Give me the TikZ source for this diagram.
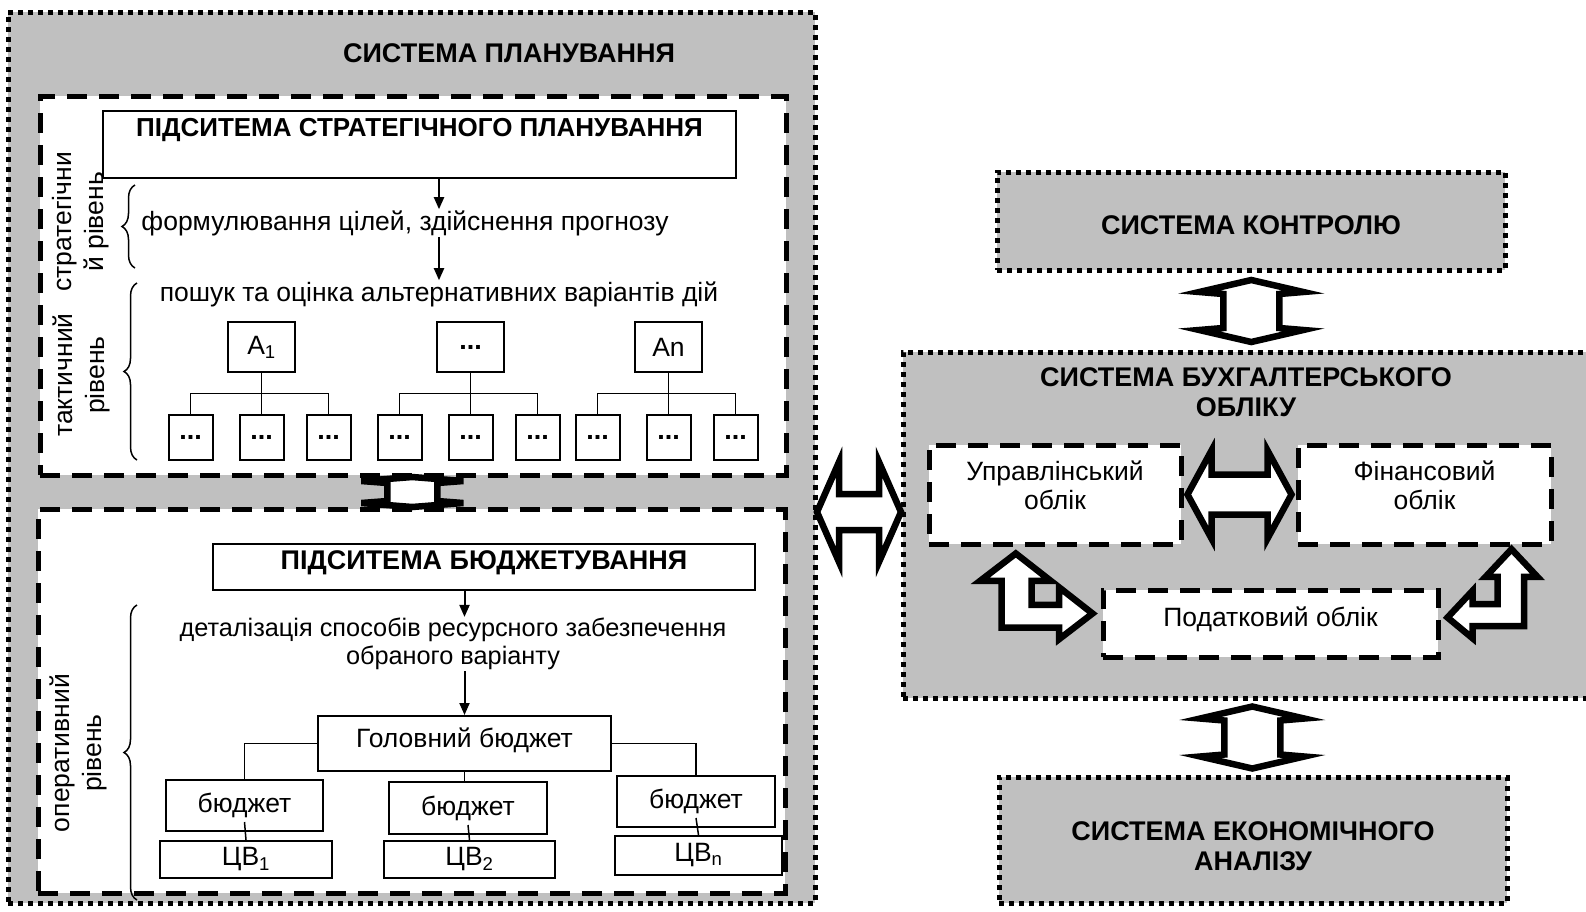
\documentclass[tikz,border=0pt]{standalone}
\usepackage{fontspec}
\setmainfont{Liberation Sans}
\usetikzlibrary{arrows.meta, positioning, calc, decorations.pathreplacing}
\definecolor{silver}{RGB}{192,192,192}

\begin{document}
\begin{tikzpicture}[
    x=1pt, y=-1pt,
    >={Triangle[length=12pt,width=10pt]},
    font=\fontsize{26.5}{29}\selectfont,
    boldfont/.style={font=\fontsize{27}{30}\selectfont\bfseries},
    sysbox/.style={rectangle, draw=black, fill=silver, line width=5pt, dash pattern=on 5pt off 5pt, inner sep=0pt, align=center},
    subbox/.style={rectangle, draw=black, fill=white, line width=5pt, dash pattern=on 20pt off 12pt, inner sep=0pt, align=center},
    plain/.style={rectangle, draw=black, fill=white, line width=2pt, inner sep=0pt, align=center},
    dotbox/.style={plain, minimum width=44pt, minimum height=45pt, boldfont},
    head/.style={boldfont, align=center, inner sep=0pt},
    txt/.style={align=center, inner sep=1pt},
    level/.style={rotate=90, align=center, inner sep=0pt, font=\fontsize{26.5}{32}\selectfont},
    arr/.style={->, line width=2pt},
    tree/.style={line width=1.5pt},
    brace/.style={decorate, decoration={brace, amplitude=13pt}, line width=1.5pt},
    blockarr/.style={draw=black, fill=white, line width=6.5pt, line join=miter},
    pics/dblarr/.style args={#1/#2/#3/#4/#5}{code={
        \draw[blockarr] (-#1,0) -- (-#1+#4,-#2) -- (-#1+#4+#5,-#3) -- (#1-#4-#5,-#3)
            -- (#1-#4,-#2) -- (#1,0) -- (#1-#4,#2) -- (#1-#4-#5,#3)
            -- (-#1+#4+#5,#3) -- (-#1+#4,#2) -- cycle;}}
]
\useasboundingbox (0,0) rectangle (1586,911);

% ---- Planning system (left) ----
\node[sysbox, minimum width=807pt, minimum height=891pt] (plan) at (411.5,457.5) {};
\node[head] (plantitle) at (509,53) {СИСТЕМА ПЛАНУВАННЯ};

\node[subbox, minimum width=746pt, minimum height=379pt] (strat) at (413,285.5) {};
\node[subbox, minimum width=747pt, minimum height=384pt] (budg) at (411.5,701) {};

% strategic + tactical level
\node[plain, minimum width=633pt, text height=25pt, text depth=42pt, font=\fontsize{26}{29}\selectfont\bfseries] (strathead) at (419.5,144.5) {ПІДСИТЕМА СТРАТЕГІЧНОГО ПЛАНУВАННЯ};
\node[txt] (goals) at (405,223) {формулювання цілей, здійснення прогнозу};
\node[txt] (alts) at (439,294) {пошук та оцінка альтернативних варіантів дій};

\node[plain, minimum width=67pt, minimum height=50pt] (alt1) at (261.5,347) {A\textsubscript{1}};
\node[plain, minimum width=67pt, minimum height=50pt, boldfont] (alt2) at (470.5,347) {...};
\node[plain, minimum width=67pt, minimum height=50pt] (alt3) at (668.5,347) {An};

\foreach \p in {alt1, alt2, alt3} {
  \node[dotbox, below=41pt of \p] (\p-2) {...};
  \node[dotbox, left=25pt of \p-2] (\p-1) {...};
  \node[dotbox, right=21pt of \p-2] (\p-3) {...};
  \coordinate (\p-bus) at ($(\p.south)!0.5!(\p-2.north)$);
  \draw[tree] (\p.south) -- (\p-bus);
  \draw[tree] (\p-1.north) |- (\p-3.north |- \p-bus) -- (\p-3.north);
  \draw[tree] (\p-bus) -- (\p-2.north);
}

\draw[arr] (strathead.south -| alts) -- (goals.north -| alts);
\draw[arr] (goals.south -| alts) -- (alts.north);

\draw[brace] (135,268) -- (135,185);
\draw[brace] (137,460) -- (137,283);
\node[level] (stratlevel) at (81,222) {стратегічни\\й рівень};
\node[level] (tactlevel) at (81,375) {тактичний\\рівень};

% operational level
\node[plain, minimum width=542pt, text height=25pt, text depth=21pt, boldfont] (budghead) at (484,567) {ПІДСИТЕМА БЮДЖЕТУВАННЯ};
\node[txt, font=\fontsize{25.3}{28}\selectfont] (detail) at (453,644) {деталізація способів ресурсного забезпечення\\обраного варіанту};
\node[plain, minimum width=293pt, text height=31pt, text depth=24pt] (mainbud) at (464.5,743.5) {Головний бюджет};

\node[plain, minimum width=157pt, minimum height=51pt] (bud1) at (244.5,805.5) {бюджет};
\node[plain, minimum width=158pt, minimum height=52pt] (bud2) at (468,808) {бюджет};
\node[plain, minimum width=158pt, minimum height=51pt] (bud3) at (696,801.5) {бюджет};
\node[plain, minimum width=172pt, minimum height=37pt] (cv1) at (246,859.5) {ЦВ\textsubscript{1}};
\node[plain, minimum width=171pt, minimum height=37pt] (cv2) at (469.5,859.5) {ЦВ\textsubscript{2}};
\node[plain, minimum width=167pt, minimum height=39pt] (cv3) at (698.5,855.5) {ЦВ\textsubscript{n}};

\draw[arr] (budghead.south -| mainbud) -- (detail.north -| mainbud);
\draw[arr] (detail.south -| mainbud) -- (mainbud.north);
\draw[tree] (mainbud.west) -| (bud1.north);
\draw[tree] (mainbud.south) -- (mainbud.south |- bud2.north);
\draw[tree] (mainbud.east) -| (bud3.north);
\foreach \i in {1,2,3}
  \draw[tree] ([yshift=10pt]bud\i.south) -- (cv\i.north);

\draw[brace] (137,900) -- (137,605);
\node[level] (operlevel) at (78,753) {оперативний\\рівень};

\pic[rotate=90] at ($(strat.south)!0.5!(budg.north)$) {dblarr=15/51/25/4/2};

% ---- Control, accounting, analysis (right) ----
\node[sysbox, minimum width=508pt, text height=62.5pt, text depth=35.5pt, head] (ctrl) at (1251,221) {СИСТЕМА КОНТРОЛЮ};
\node[sysbox, minimum width=697pt, minimum height=346pt] (acc) at (1251.5,525) {};
\node[head] (acctitle) at (1246,392) {СИСТЕМА БУХГАЛТЕРСЬКОГО\\ОБЛІКУ};
\node[sysbox, minimum width=508pt, text height=93.5pt, text depth=32.5pt, head] (anal) at (1253,840) {СИСТЕМА ЕКОНОМІЧНОГО\\АНАЛІЗУ};

\node[subbox, minimum width=252pt, text height=64pt, text depth=35pt] (mgmt) at (1055,494.5) {Управлінський\\облік};
\node[subbox, minimum width=253pt, text height=64pt, text depth=35pt] (fin) at (1424.5,494.5) {Фінансовий\\облік};
\node[subbox, minimum width=335pt, text height=36.5pt, text depth=30.5pt] (tax) at (1270.5,623.5) {Податковий облік};

\pic[rotate=90] at ($(ctrl.south)!0.5!(acc.north)$) {dblarr=31/52/28/12/2};
\pic[rotate=90] at ($(acc.south)!0.5!(anal.north)$) {dblarr=31/52/28/12/2};
\pic at ($(mgmt.east)!0.5!(fin.west)$) {dblarr=52/44/20/24/0};
\pic at ($(plan.east |- mgmt)!0.5!(acc.west |- mgmt) + (0,17.5)$) {dblarr=42/50/18/22/0};

% bent arrows to the tax box
\draw[blockarr, shift={($(tax.west)+(-8,-10)$)}] (0,0) -- (-33.3,25.6) -- (-33.3,14) -- (-91,14)
  -- (-91,-32.7) -- (-112.3,-32.7) -- (-76.7,-60) -- (-41.8,-32.7) -- (-61,-32.7)
  -- (-61,-8.7) -- (-33.3,-8.7) -- (-33.3,-26.1) -- cycle;
\draw[blockarr, shift={($(tax.east)+(7,-6)$)}] (0,0) -- (25,20.7) -- (25,8.7) -- (76.7,8.7)
  -- (76.7,-40.6) -- (90,-40.6) -- (64,-68.3) -- (38,-40.6) -- (50,-40.6)
  -- (50,-13.3) -- (25,-13.3) -- (25,-26.7) -- cycle;

\end{tikzpicture}
\end{document}
